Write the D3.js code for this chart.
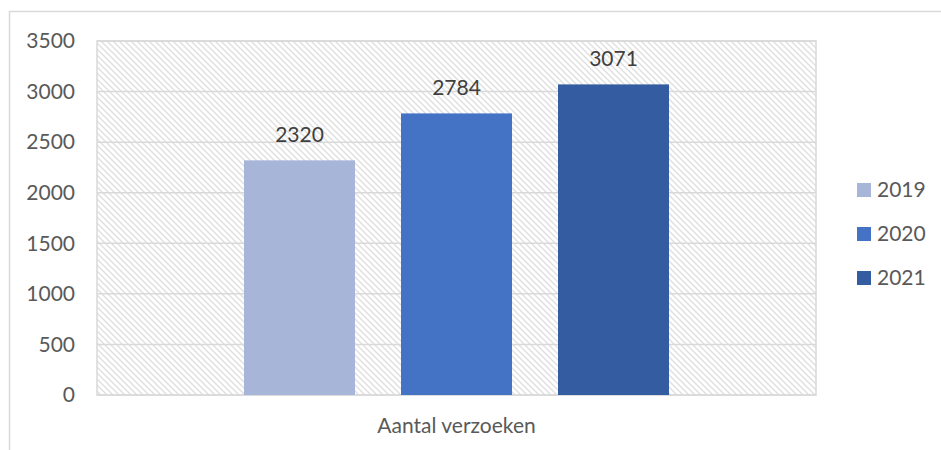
<!DOCTYPE html>
<html>
<head>
<meta charset="utf-8">
<script src="https://cdn.jsdelivr.net/npm/d3@7"></script>
<style>
  body { margin: 0; background: #fff; }
  text { font-family: Lato, "Open Sans", sans-serif; }
</style>
</head>
<body>
<div id="chart"></div>
<script>
// Datos del gráfico
const categories = ["Aantal verzoeken"];
const years = ["2019", "2020", "2021"];
const values = [2320, 2784, 3071];
const colors = ["#a7b5d9", "#4472c4", "#345ca0"];
const yTicks = [0, 500, 1000, 1500, 2000, 2500, 3000, 3500];

const W = 941, H = 450;
const plot = { left: 97, right: 816, top: 41, bottom: 395 };
const fs = "21px";

const svg = d3.select("#chart").append("svg")
    .attr("width", W)
    .attr("height", H);

// patrón de rayas diagonales del fondo
const defs = svg.append("defs");
const pat = defs.append("pattern")
    .attr("id", "hatch")
    .attr("patternUnits", "userSpaceOnUse")
    .attr("width", 6)
    .attr("height", 6);
pat.append("rect").attr("width", 6).attr("height", 6).attr("fill", "#fff");
pat.append("path")
    .attr("d", "M-1,-1 L7,7 M-7,-1 L1,7 M5,-1 L13,7")
    .attr("stroke", "#dedede")
    .attr("stroke-width", 1.3);

// marco exterior
svg.append("rect")
    .attr("x", 9.5).attr("y", 11.5)
    .attr("width", W).attr("height", H)
    .attr("fill", "none")
    .attr("stroke", "#d9d9d9")
    .attr("stroke-width", 1.5);

const x0 = d3.scaleBand()
    .domain(categories)
    .range([plot.left, plot.right]);

const x1 = d3.scaleBand()
    .domain(years)
    .range([x0(categories[0]) + 147, x0(categories[0]) + x0.bandwidth() - 147])
    .paddingInner(0.293);

const y = d3.scaleLinear()
    .domain([0, 3500])
    .range([plot.bottom, plot.top]);

// área del gráfico
svg.append("rect")
    .attr("x", plot.left).attr("y", plot.top)
    .attr("width", plot.right - plot.left)
    .attr("height", plot.bottom - plot.top)
    .attr("fill", "url(#hatch)")
    .attr("stroke", "#d9d9d9")
    .attr("stroke-width", 1.5);

// líneas de cuadrícula
svg.append("g")
    .selectAll("line")
    .data(yTicks)
    .join("line")
    .attr("x1", plot.left).attr("x2", plot.right)
    .attr("y1", d => y(d)).attr("y2", d => y(d))
    .attr("stroke", "#d9d9d9")
    .attr("stroke-width", 1.5);

// eje y
const yAxis = svg.append("g")
    .attr("transform", `translate(${plot.left},0)`)
    .call(d3.axisLeft(y).tickValues(yTicks).tickFormat(d3.format("d")).tickSize(0).tickPadding(22));
yAxis.select(".domain").remove();
yAxis.selectAll("text")
    .attr("fill", "#595959")
    .style("font-size", fs)
    .style("font-family", "Lato, 'Open Sans', sans-serif");

// eje x
const xAxis = svg.append("g")
    .attr("transform", `translate(0,${plot.bottom})`)
    .call(d3.axisBottom(x0).tickSize(0).tickPadding(23));
xAxis.select(".domain").remove();
xAxis.selectAll("text")
    .attr("fill", "#595959")
    .style("font-size", fs)
    .style("font-family", "Lato, 'Open Sans', sans-serif");

// barras
svg.append("g")
    .selectAll("rect")
    .data(values)
    .join("rect")
    .attr("x", (d, i) => x1(years[i]))
    .attr("y", d => y(d))
    .attr("width", x1.bandwidth())
    .attr("height", d => y(0) - y(d))
    .attr("fill", (d, i) => colors[i]);

// etiquetas de datos
svg.append("g")
    .selectAll("text")
    .data(values)
    .join("text")
    .attr("x", (d, i) => x1(years[i]) + x1.bandwidth() / 2)
    .attr("y", d => y(d) - 18)
    .attr("text-anchor", "middle")
    .attr("fill", "#404040")
    .style("font-size", fs)
    .text(d => d);

// leyenda
const legend = svg.append("g")
    .selectAll("g")
    .data(years)
    .join("g")
    .attr("transform", (d, i) => `translate(857,${190 + i * 44})`);
legend.append("rect")
    .attr("x", 0).attr("y", -7)
    .attr("width", 14).attr("height", 14)
    .attr("fill", (d, i) => colors[i]);
legend.append("text")
    .attr("x", 20).attr("y", 0)
    .attr("dy", "0.35em")
    .attr("fill", "#595959")
    .style("font-size", fs)
    .text(d => d);
</script>
</body>
</html>
